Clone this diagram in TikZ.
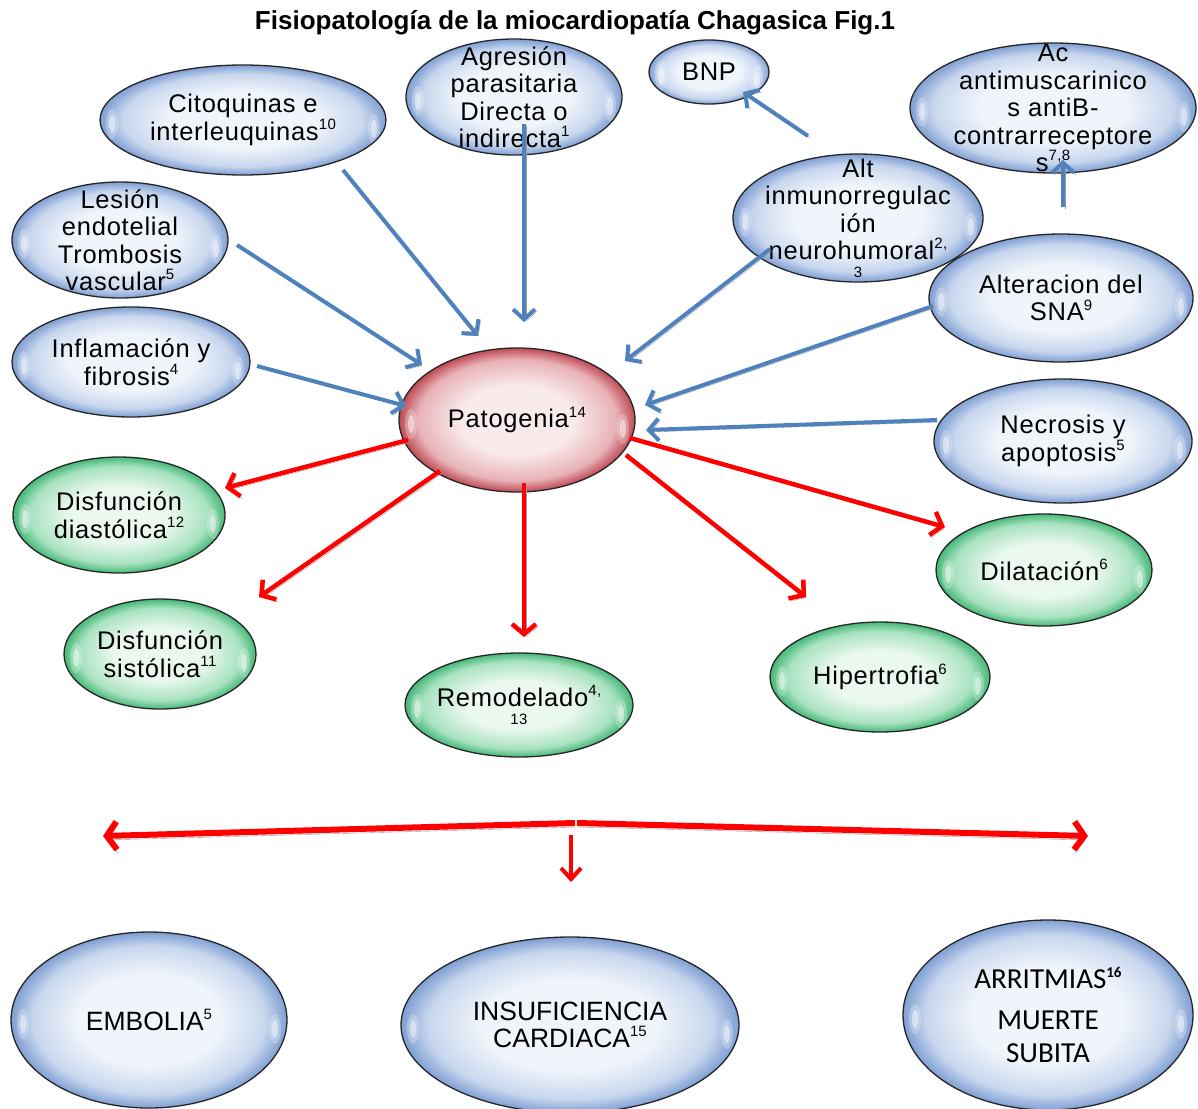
\documentclass[tikz,border=0pt]{standalone}
\usepackage{fontspec}
\setmainfont{Liberation Sans}
\newfontfamily\bodyfam{Liberation Sans}[LetterSpace=3]
\newfontfamily\calibfont{Carlito}
\usetikzlibrary{arrows.meta,shapes.geometric,calc}

\definecolor{bluein}{HTML}{F0F4FB}
\definecolor{bluemid}{HTML}{C8D7EE}
\definecolor{blueout}{HTML}{7F9FD3}
\definecolor{greenin}{HTML}{EAF8EF}
\definecolor{greenmid}{HTML}{A8E2C0}
\definecolor{greenout}{HTML}{45B877}
\definecolor{redin}{HTML}{F9EAEC}
\definecolor{redmid}{HTML}{E8B2B7}
\definecolor{redout}{HTML}{BF4A55}
\definecolor{arrblue}{HTML}{4F81BD}
\definecolor{arrred}{HTML}{FF0000}
\definecolor{shadowgray}{HTML}{9A9A9A}

% glossy fills of the bubbles (25bp = rim of the ellipse)
\pgfdeclareradialshading{glossblue}{\pgfpoint{0bp}{0bp}}{color(0bp)=(bluein); color(13bp)=(bluein); color(21bp)=(bluemid); color(25bp)=(blueout); color(50bp)=(blueout)}
\pgfdeclareradialshading{glossgreen}{\pgfpoint{0bp}{0bp}}{color(0bp)=(greenin); color(12bp)=(greenin); color(21bp)=(greenmid); color(25bp)=(greenout); color(50bp)=(greenout)}
\pgfdeclareradialshading{glossred}{\pgfpoint{0bp}{0bp}}{color(0bp)=(redin); color(12bp)=(redin); color(21bp)=(redmid); color(25bp)=(redout); color(50bp)=(redout)}

\newcommand\sups[1]{\raisebox{.8ex}{\fontsize{15}{15}\selectfont#1}}
\newcommand\bodyfont{\bodyfam\fontsize{25.5}{27.5}\selectfont}

\begin{document}
\begin{tikzpicture}[x=1pt,y=-1pt,
  bubble/.style={ellipse, draw=black!85, line width=1.3pt, inner sep=0pt, outer sep=0pt,
    path picture={
      \fill[white,opacity=.25] ($(path picture bounding box.west)+(12,4)$) ellipse (6 and 15);
      \fill[white,opacity=.45] ($(path picture bounding box.west)+(12,4)$) ellipse (3 and 9);
      \fill[white,opacity=.25] ($(path picture bounding box.east)+(-12,9)$) ellipse (6 and 15);
      \fill[white,opacity=.45] ($(path picture bounding box.east)+(-12,9)$) ellipse (3 and 9);}},
  bblue/.style={bubble, shade, shading=glossblue},
  bgreen/.style={bubble, shade, shading=glossgreen},
  bred/.style={bubble, shade, shading=glossred},
  txt/.style={align=center, inner sep=0pt, font=\bodyfont},
  bigtxt/.style={align=center, inner sep=0pt, font=\fontsize{26.5}{26.5}\selectfont},
  barrow/.style={draw=arrblue, line width=4pt, -{Straight Barb[length=10pt,width=22pt]},
    preaction={draw=shadowgray, transform canvas={shift={(2,2)}}}},
  rarrow/.style={draw=arrred, line width=4.5pt, -{Straight Barb[length=10pt,width=24pt]},
    preaction={draw=shadowgray, transform canvas={shift={(2,2.5)}}}},
  wide arrow/.style={draw=arrred, line width=6pt, -{Straight Barb[length=10pt,width=28pt]},
    preaction={draw=shadowgray, transform canvas={shift={(1,4)}}}},
  down arrow/.style={draw=arrred, line width=4pt, -{Straight Barb[length=11pt,width=20pt]},
    preaction={draw=shadowgray, transform canvas={shift={(1,2)}}}},
]
\useasboundingbox (0,0) rectangle (1198,1108);

% title
\node[font=\fontsize{26}{28}\selectfont\bfseries] (title) at (575,23) {Fisiopatología de la miocardiopatía Chagasica Fig.1};

% causes (blue)
\node[bblue, minimum width=216, minimum height=116, label={[txt]center:Agresión\\parasitaria\\Directa o\\indirecta\sups{1}}] (agre) at (514,97) {};
\node[bblue, minimum width=120, minimum height=64, label={[txt]center:BNP}] (bnp) at (709,72) {};
\node[bblue, minimum width=286, minimum height=130, label={[txt]center:Ac\\antimuscarinico\\s antiB-\\contrarreceptore\\s\sups{7,8}}] (ac) at (1053,108) {};
\node[bblue, minimum width=216, minimum height=116, label={[txt]center:Lesión\\endotelial\\Trombosis\\vascular\sups{5}}] (lesion) at (120,240) {};
\node[bblue, minimum width=286, minimum height=110, label={[txt]center:Citoquinas e\\interleuquinas\sups{10}}] (cito) at (243,120) {};
\node[bblue, minimum width=250, minimum height=128, label={[txt]center:Alt\\inmunorregulac\\ión\\neurohumoral\sups{2,}\\[-10pt]{\fontsize{15}{15}\selectfont 3}}] (alt) at (858,218) {};
\node[bblue, minimum width=264, minimum height=128, label={[txt]center:Alteracion del\\SNA\sups{9}}] (sna) at (1061,298) {};
\node[bblue, minimum width=238, minimum height=110, label={[txt]center:Inflamación y\\fibrosis\sups{4}}] (infl) at (131,362) {};
\node[bblue, minimum width=258, minimum height=124, label={[txt]center:Necrosis y\\apoptosis\sups{5}}] (necro) at (1063,441) {};

% center
\node[bred, minimum width=236, minimum height=144, label={[txt]center:Patogenia\sups{14}}] (pato) at (517,420) {};

% effects (green)
\node[bgreen, minimum width=212, minimum height=116, label={[txt]center:Disfunción\\diastólica\sups{12}}] (diast) at (119,515) {};
\node[bgreen, minimum width=216, minimum height=112, label={[txt]center:Dilatación\sups{6}}] (dilat) at (1044,570) {};
\node[bgreen, minimum width=192, minimum height=110, label={[txt]center:Disfunción\\sistólica\sups{11}}] (sist) at (160,654) {};
\node[bgreen, minimum width=220, minimum height=110, label={[txt]center:Hipertrofia\sups{6}}] (hiper) at (880,677) {};
\node[bgreen, minimum width=228, minimum height=104, label={[txt]center:Remodelado\sups{4,}\\[-10pt]{\fontsize{15}{15}\selectfont 13}}] (remod) at (519,705) {};

% consequences
\node[bblue, minimum width=276, minimum height=176, label={[bigtxt]center:EMBOLIA\sups{5}}] (embo) at (149,1020) {};
\node[bblue, minimum width=338, minimum height=176, label={[bigtxt]center:INSUFICIENCIA\\CARDIACA\sups{15}}] (insuf) at (570,1025) {};
\node[bblue, minimum width=290, minimum height=190, label={[align=center, inner sep=0pt, font=\calibfont\fontsize{29}{33}\selectfont]center:ARRITMIAS\sups{\calibfont\bfseries 16}\\[8pt]MUERTE\\SUBITA}] (arrit) at (1048,1015) {};

% blue arrows into Patogenia
\draw[barrow] ($(cito)+(100,50)$) -- ($(pato)+(-39,-84)$);
\draw[barrow] ($(agre)+(10,27)$) -- ($(pato)+(7,-98)$);
\draw[barrow] ($(lesion)+(117,5)$) -- ($(pato)+(-95,-55)$);
\draw[barrow] ($(infl)+(126,4)$) -- ($(pato)+(-111,-14)$);
\draw[barrow] ($(alt)+(-88,31)$) -- ($(pato)+(108,-59)$);
\draw[barrow] ($(sna)+(-128,8)$) -- ($(pato)+(128,-15)$);
\draw[barrow] ($(necro)+(-126,-21)$) -- ($(pato)+(129,10)$);
\draw[barrow] ($(alt)+(-50,-82)$) -- ($(bnp)+(34,20)$);
\draw[barrow] ($(sna)+(2,-91)$) -- ($(ac)+(10,52)$);

% red arrows out of Patogenia
\draw[rarrow] ($(pato)+(-109,20)$) -- ($(diast)+(106,-27)$);
\draw[rarrow] ($(pato)+(-77,51)$) -- ($(sist)+(99,-57)$);
\draw[rarrow] ($(pato)+(7,63)$) -- ($(remod)+(5,-68)$);
\draw[rarrow] ($(pato)+(109,35)$) -- ($(hiper)+(-74,-80)$);
\draw[rarrow] ($(pato)+(113,18)$) -- ($(dilat)+(-99,-43)$);

% split towards the consequences
\coordinate (split) at (575,823);
\draw[wide arrow] (split) -- ($(embo)+(-46,-184)$);
\draw[wide arrow] ([xshift=2pt]split) -- ($(arrit)+(40,-179)$);
\draw[down arrow] ($(insuf)+(1,-190)$) -- ($(insuf)+(1,-143)$);
\end{tikzpicture}
\end{document}
